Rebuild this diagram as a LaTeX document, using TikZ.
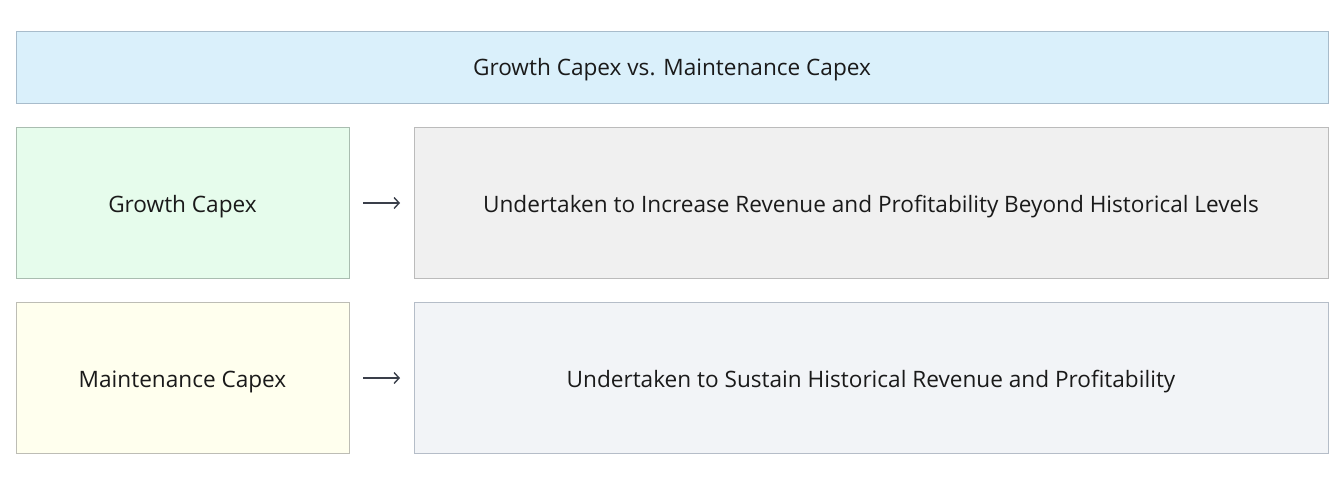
\documentclass[tikz,border=0pt]{standalone}
\usepackage{fontspec}
\setmainfont{Open Sans}
\usetikzlibrary{arrows.meta}
\definecolor{titlefill}{HTML}{DAF0FB}
\definecolor{titledraw}{HTML}{A8BCCB}
\definecolor{growfill}{HTML}{E6FCEC}
\definecolor{growdraw}{HTML}{A9BDB0}
\definecolor{maintfill}{HTML}{FFFFEE}
\definecolor{maintdraw}{HTML}{BDBDB5}
\definecolor{descAfill}{HTML}{F0F0F0}
\definecolor{descAdraw}{HTML}{BBBBBB}
\definecolor{descBfill}{HTML}{F2F4F7}
\definecolor{descBdraw}{HTML}{B5BDC8}
\definecolor{txt}{HTML}{1A1A1A}
\definecolor{arr}{HTML}{3A3F4A}
\begin{document}
\begin{tikzpicture}[x=1pt,y=-1pt,
  box/.style={line width=1pt, inner sep=0pt, font=\fontsize{22.6}{27}\selectfont, text=txt},
  lbl/.style={box, yshift=-2.5pt},
  lbl2/.style={box, yshift=-4pt},
  link/.style={draw=arr, line width=1.4pt, -{Straight Barb[length=5pt,width=11pt]}, shorten <=14pt, shorten >=14pt}]
\useasboundingbox (0,0) rectangle (1344,485);
\fill[white] (0,0) rectangle (1344,485);
\draw[box, fill=titlefill, draw=titledraw] (16,31) rectangle (1328,103) node[lbl, midway] (title) {Growth Capex vs. Maintenance Capex};
\draw[box, fill=growfill, draw=growdraw] (16,127) rectangle (349,278) node[lbl2, midway] (grow) {Growth Capex};
\draw[box, fill=descAfill, draw=descAdraw] (414,127) rectangle (1328,278) node[lbl2, midway] (growd) {Undertaken to Increase Revenue and Profitability Beyond Historical Levels};
\draw[box, fill=maintfill, draw=maintdraw] (16,302) rectangle (349,453) node[lbl2, midway] (maint) {Maintenance Capex};
\draw[box, fill=descBfill, draw=descBdraw] (414,302) rectangle (1328,453) node[lbl2, midway] (maintd) {Undertaken to Sustain Historical Revenue and Profitability};
\coordinate (g1) at (349,203);
\coordinate (g2) at (414,203);
\coordinate (m1) at (349,378);
\coordinate (m2) at (414,378);
\draw[link] (g1) -- (g2);
\draw[link] (m1) -- (m2);
\end{tikzpicture}
\end{document}
